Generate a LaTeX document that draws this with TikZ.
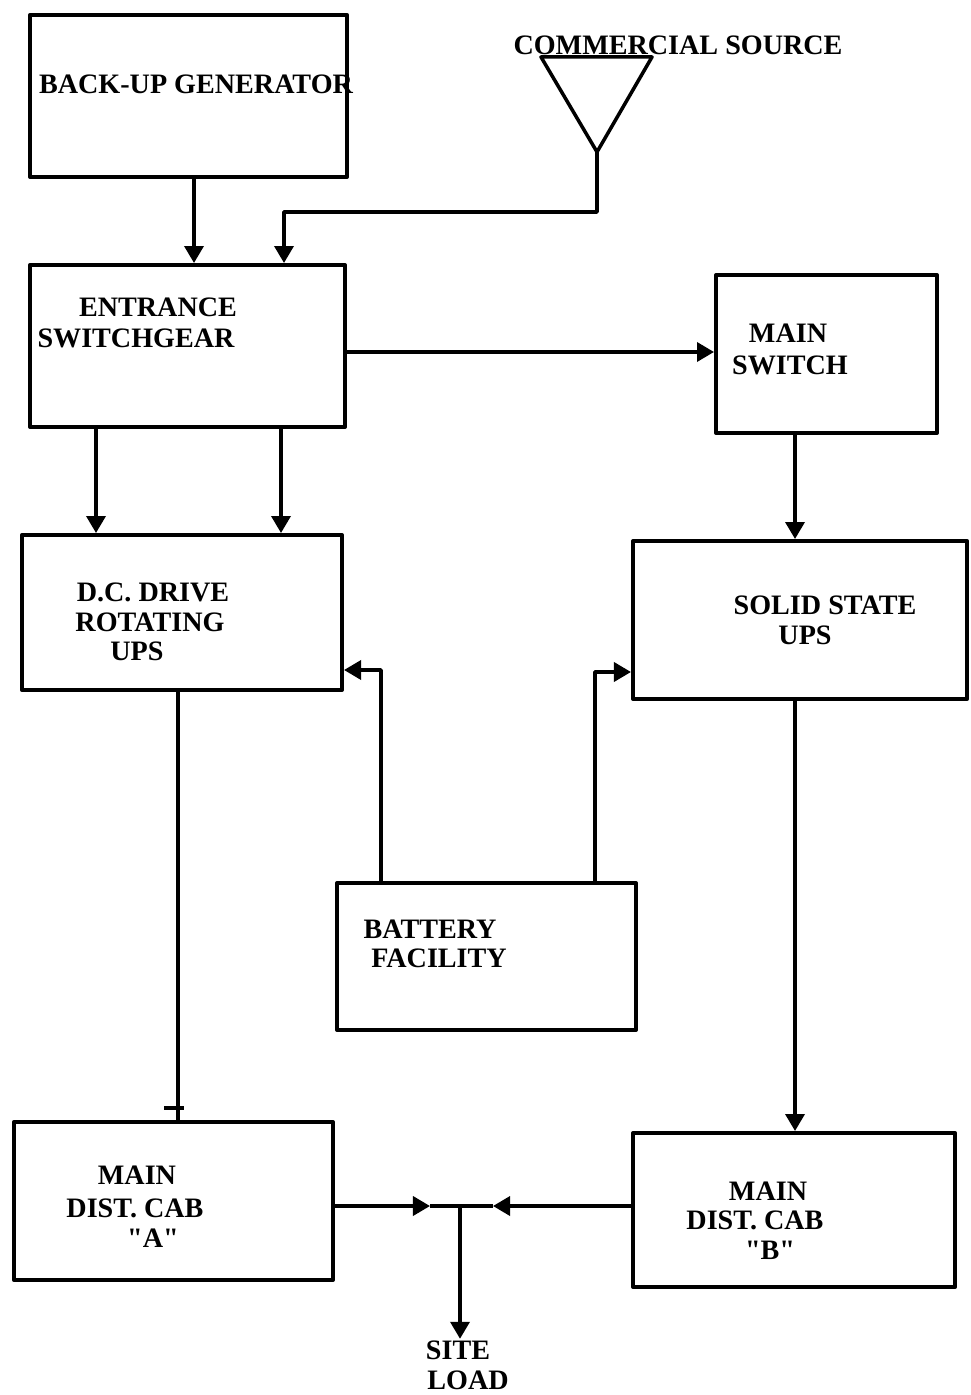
\documentclass[tikz,border=0pt]{standalone}
\usepackage{fontspec}
\setmainfont{Liberation Serif}[Ligatures=TeXOff]
\usetikzlibrary{arrows.meta}
\begin{document}
\begin{tikzpicture}[x=0.01cm,y=-0.01cm,
  line width=1pt, line join=round,
  box/.style={draw, line width=1.1pt, rectangle, inner sep=0pt},
  lbl/.style={font=\fontsize{8}{9.5}\selectfont\bfseries, inner sep=0pt},
  arr/.style={-{Triangle[length=1.7mm,width=1.9mm]}}]
\useasboundingbox (0,0) rectangle (971,1395);

% blocks
\node[box, minimum width=3.17cm, minimum height=1.62cm] (gen) at (188.5,96) {};
\node[box, minimum width=3.15cm, minimum height=1.62cm] (esg) at (187.5,346) {};
\node[box, minimum width=2.21cm, minimum height=1.58cm] (msw) at (826.5,354) {};
\node[box, minimum width=3.20cm, minimum height=1.55cm] (dcr) at (182,612.5) {};
\node[box, minimum width=3.34cm, minimum height=1.58cm] (ssu) at (800,620) {};
\node[box, minimum width=2.99cm, minimum height=1.47cm] (bat) at (486.5,956.5) {};
\node[box, minimum width=3.19cm, minimum height=1.58cm] (cabA) at (173.5,1201) {};
\node[box, minimum width=3.22cm, minimum height=1.54cm] (cabB) at (794,1210) {};

% commercial source symbol
\coordinate (src) at (597,152);
\draw (541,57) -- (652,57) -- (src) -- cycle;

% block labels
\node[lbl] (tgen) at (196,84) {BACK-UP GENERATOR};
\node[lbl] (tsrc) at (678,45) {COMMERCIAL SOURCE};
\node[lbl] (tesg1) at (158,307) {ENTRANCE};
\node[lbl] (tesg2) at (136,338) {SWITCHGEAR};
\node[lbl] (tmsw1) at (788,333) {MAIN};
\node[lbl] (tmsw2) at (790,365) {SWITCH};
\node[lbl] (tdcr1) at (153,592) {D.C. DRIVE};
\node[lbl] (tdcr2) at (150,622) {ROTATING};
\node[lbl] (tdcr3) at (137,651) {UPS};
\node[lbl] (tssu1) at (825,605) {SOLID STATE};
\node[lbl] (tssu2) at (805,635) {UPS};
\node[lbl] (tbat1) at (430,929) {BATTERY};
\node[lbl] (tbat2) at (439,958) {FACILITY};
\node[lbl] (tcA1) at (137,1175) {MAIN};
\node[lbl] (tcA2) at (135,1208) {DIST. CAB};
\node[lbl] (tcA3) at (153,1238) {"A"};
\node[lbl] (tcB1) at (768,1191) {MAIN};
\node[lbl] (tcB2) at (755,1220) {DIST. CAB};
\node[lbl] (tcB3) at (770,1250) {"B"};
\node[lbl] (site) at (458,1350) {SITE};
\node[lbl] (load) at (468,1380) {LOAD};

% routing points
\coordinate (xg) at (194,0);
\coordinate (xc) at (284,212);
\coordinate (xe1) at (96,0);
\coordinate (xe2) at (281,0);
\coordinate (xm) at (795,0);
\coordinate (xd) at (178,0);
\coordinate (b1) at (381,670);
\coordinate (b2) at (595,672);
\coordinate (ye) at (0,352);
\coordinate (jn) at (460,1206);
\coordinate (ja) at (430,1206);
\coordinate (jb) at (493,1206);

% connectors
\draw[arr] (gen.south -| xg) -- (esg.north -| xg);
\draw[arr] (src) -- (src |- xc) -- (xc) -- (esg.north -| xc);
\draw[arr] (esg.east |- ye) -- (msw.west |- ye);
\draw[arr] (esg.south -| xe1) -- (dcr.north -| xe1);
\draw[arr] (esg.south -| xe2) -- (dcr.north -| xe2);
\draw[arr] (msw.south -| xm) -- (ssu.north -| xm);
\draw[arr] (bat.north -| b1) -- (b1) -- (dcr.east |- b1);
\draw[arr] (bat.north -| b2) -- (b2) -- (ssu.west |- b2);
\draw (dcr.south -| xd) -- (cabA.north -| xd);
\draw (164,1108) -- (184,1108);
\draw[arr] (ssu.south -| xm) -- (cabB.north -| xm);
\draw[arr] (cabA.east |- jn) -- (ja);
\draw (ja) -- (jn);
\draw[arr] (cabB.west |- jn) -- (jb);
\draw (jb) -- (jn);
\draw[arr] (jn) -- (site.north -| jn);
\end{tikzpicture}
\end{document}
